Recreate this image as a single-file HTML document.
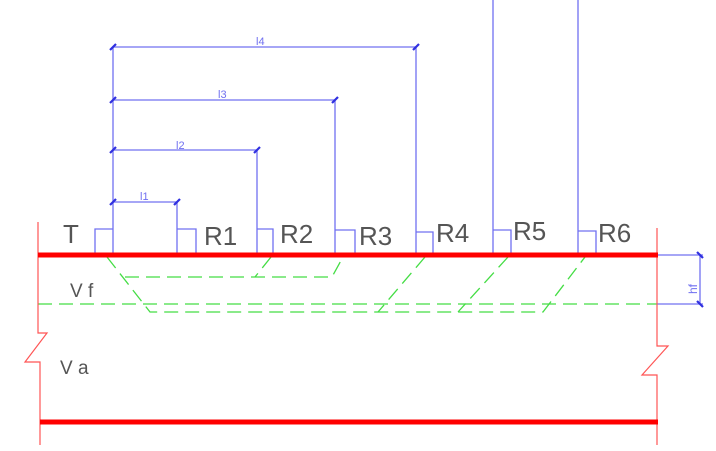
<!DOCTYPE html>
<html><head><style>body{margin:0;background:#fff}svg{display:block}</style></head><body>
<svg width="716" height="451" viewBox="0 0 716 451" xmlns="http://www.w3.org/2000/svg" font-family="Liberation Sans, sans-serif">
<g stroke="#7070f0" stroke-width="1.3" fill="none">
<line x1="113" y1="47" x2="113" y2="255"/>
<line x1="113" y1="47" x2="416" y2="47"/><line x1="416" y1="47" x2="416" y2="255"/>
<line x1="113" y1="100" x2="335" y2="100"/><line x1="335" y1="100" x2="335" y2="255"/>
<line x1="113" y1="150" x2="257" y2="150"/><line x1="257" y1="150" x2="257" y2="255"/>
<line x1="113" y1="202" x2="177" y2="202"/><line x1="177" y1="202" x2="177" y2="255"/>
<line x1="493" y1="0" x2="493" y2="255"/><line x1="578" y1="0" x2="578" y2="255"/>
<polyline points="95,255 95,229 113,229"/>
<polyline points="177,229 196,229 196,255"/>
<polyline points="257,229 273,229 273,255"/>
<polyline points="335,230 355,230 355,255"/>
<polyline points="416,232 433,232 433,255"/>
<polyline points="493,230 511,230 511,255"/>
<polyline points="578,231 596,231 596,255"/>
<line x1="657" y1="255" x2="703" y2="255"/><line x1="657" y1="304" x2="703" y2="304"/>
<line x1="700" y1="255" x2="700" y2="304"/>
</g>
<g stroke="#3030e0" stroke-width="2.2">
<line x1="110" y1="50" x2="116" y2="44"/><line x1="413" y1="50" x2="419" y2="44"/>
<line x1="110" y1="103" x2="116" y2="97"/><line x1="332" y1="103" x2="338" y2="97"/>
<line x1="110" y1="153" x2="116" y2="147"/><line x1="254" y1="153" x2="260" y2="147"/>
<line x1="110" y1="205" x2="116" y2="199"/><line x1="174" y1="205" x2="180" y2="199"/>
<line x1="697" y1="252" x2="703" y2="258"/><line x1="697" y1="301" x2="703" y2="307"/>
</g>
<g fill="#7070f0" font-size="11">
<text x="256" y="45">l4</text><text x="218" y="98">l3</text><text x="176" y="149">l2</text><text x="140" y="200">l1</text>
<text x="0" y="0" transform="translate(697,294) rotate(-90)" font-size="12">hf</text>
</g>
<g stroke="#44dd44" stroke-width="1.3" fill="none" stroke-dasharray="14,7">
<line x1="38" y1="304" x2="657" y2="304"/>
<polyline points="107,257 150,312 543,312 585,257"/>
<polyline points="125,277 332,277 343,257"/>
<line x1="271" y1="257" x2="255" y2="277"/>
<line x1="425" y1="257" x2="378" y2="312"/>
<line x1="508" y1="257" x2="458" y2="312"/>
</g>
<g stroke="#ff5555" stroke-width="1.2" fill="none">
<polyline points="38,222 38,333 47,333 25,362 40,362 40,445"/>
<polyline points="657,228 657,346 668,346 642,375 657,375 657,445"/>
</g>
<g stroke="#ff0000" stroke-width="5">
<line x1="38" y1="255" x2="658" y2="255"/>
<line x1="40" y1="422" x2="658" y2="422"/>
</g>
<g fill="#555" font-size="26">
<text x="63" y="243">T</text><text x="204" y="245">R1</text><text x="280" y="243">R2</text>
<text x="359" y="245">R3</text><text x="436" y="242">R4</text><text x="513" y="240">R5</text><text x="598" y="242">R6</text>
<text x="70" y="297" font-size="19">V f</text><text x="60" y="374" font-size="19">V a</text>
</g>
</svg>
</body></html>
